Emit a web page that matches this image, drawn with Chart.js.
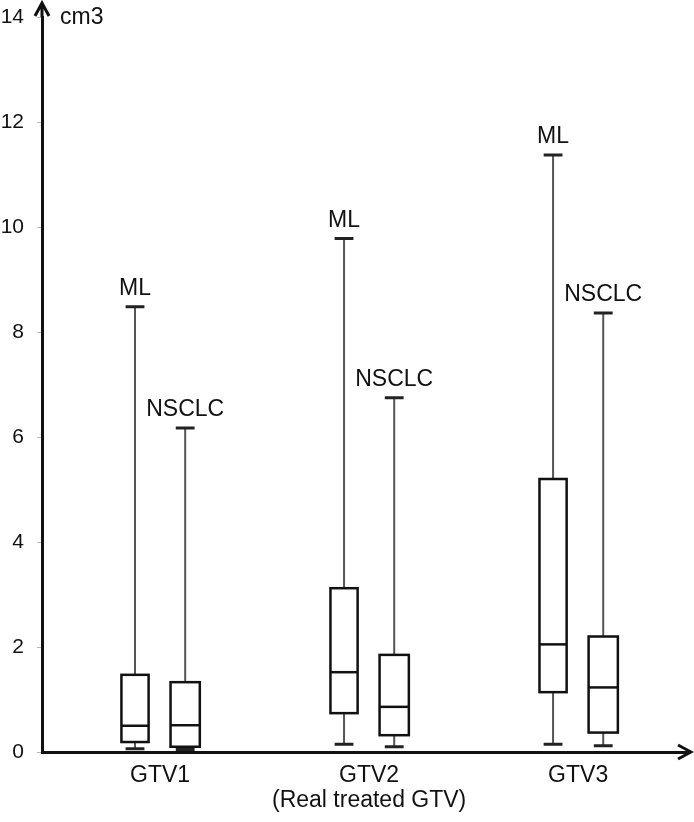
<!DOCTYPE html>
<html>
<head>
<meta charset="utf-8">
<script src="https://cdn.jsdelivr.net/npm/chart.js@4.4.1/dist/chart.umd.min.js"></script>
<style>
  html, body { margin: 0; padding: 0; background: #fff; }
  #wrap { width: 694px; height: 822px; }
</style>
</head>
<body>
<div id="wrap"><canvas id="box-chart"></canvas></div>
<script>
const groups = ['GTV1', 'GTV2', 'GTV3'];
const groupSub = ['', '(Real treated GTV)', ''];
const yTicks = [0, 2, 4, 6, 8, 10, 12, 14];
const yUnit = 'cm3';

// ML boxes (min, q1, median, q3, max) per group
const mlMin = [0.06, 0.15, 0.15];
const mlQ1 = [0.19, 0.74, 1.14];
const mlMedian = [0.50, 1.52, 2.05];
const mlQ3 = [1.47, 3.12, 5.20];
const mlMax = [8.48, 9.78, 11.37];

// NSCLC boxes
const nsMin = [0.05, 0.10, 0.12];
const nsQ1 = [0.10, 0.32, 0.37];
const nsMedian = [0.51, 0.86, 1.23];
const nsQ3 = [1.33, 1.85, 2.20];
const nsMax = [6.17, 6.75, 8.36];

const series = [
  { name: 'ML', offset: -0.12, width: 0.13, min: mlMin, q1: mlQ1, med: mlMedian, q3: mlQ3, max: mlMax },
  { name: 'NSCLC', offset: 0.12, width: 0.14, min: nsMin, q1: nsQ1, med: nsMedian, q3: nsQ3, max: nsMax }
];

const FONT = '"Liberation Sans", Arial, sans-serif';

// draws the boxes, whiskers and the ML / NSCLC labels from the scales
const boxPlot = {
  id: 'boxPlot',
  afterDatasetsDraw(chart) {
    const { ctx, scales: { x, y } } = chart;
    const capHalf = 0.045;
    ctx.save();
    ctx.lineCap = 'butt';
    series.forEach(s => {
      groups.forEach((g, i) => {
        const cx = x.getPixelForValue(i + 1 + s.offset);
        const left = x.getPixelForValue(i + 1 + s.offset - s.width / 2);
        const right = x.getPixelForValue(i + 1 + s.offset + s.width / 2);
        const capL = x.getPixelForValue(i + 1 + s.offset - capHalf);
        const capR = x.getPixelForValue(i + 1 + s.offset + capHalf);
        const yMin = y.getPixelForValue(s.min[i]);
        const yQ1 = y.getPixelForValue(s.q1[i]);
        const yMed = y.getPixelForValue(s.med[i]);
        const yQ3 = y.getPixelForValue(s.q3[i]);
        const yMax = y.getPixelForValue(s.max[i]);

        // whiskers
        ctx.strokeStyle = '#555';
        ctx.lineWidth = 2;
        ctx.beginPath();
        ctx.moveTo(cx, yQ3); ctx.lineTo(cx, yMax);
        ctx.moveTo(cx, yQ1); ctx.lineTo(cx, yMin);
        ctx.stroke();

        // caps
        ctx.strokeStyle = '#222';
        ctx.lineWidth = 3;
        ctx.beginPath();
        ctx.moveTo(capL, yMax); ctx.lineTo(capR, yMax);
        ctx.moveTo(capL, yMin); ctx.lineTo(capR, yMin);
        ctx.stroke();

        // box + median
        ctx.fillStyle = '#fff';
        ctx.fillRect(left, yQ3, right - left, yQ1 - yQ3);
        ctx.strokeStyle = '#111';
        ctx.lineWidth = 2.5;
        ctx.strokeRect(left, yQ3, right - left, yQ1 - yQ3);
        ctx.beginPath();
        ctx.moveTo(left, yMed); ctx.lineTo(right, yMed);
        ctx.stroke();

        // series label above the top whisker
        ctx.fillStyle = '#111';
        ctx.font = '23px ' + FONT;
        ctx.textAlign = 'center';
        ctx.textBaseline = 'alphabetic';
        ctx.fillText(s.name, cx, yMax - 12);
      });
    });
    ctx.restore();
  }
};

// axis arrows and unit label
const axisArrows = {
  id: 'axisArrows',
  afterDraw(chart) {
    const { ctx, chartArea: a } = chart;
    ctx.save();
    ctx.strokeStyle = '#111';
    ctx.lineWidth = 3;
    ctx.lineJoin = 'miter';
    const tipY = a.top - 14;
    const tipX = a.right + 5;
    ctx.beginPath();
    ctx.moveTo(a.left, a.top); ctx.lineTo(a.left, tipY + 1);
    ctx.moveTo(a.left - 7, tipY + 13); ctx.lineTo(a.left, tipY); ctx.lineTo(a.left + 7, tipY + 13);
    ctx.moveTo(a.right, a.bottom); ctx.lineTo(tipX - 1, a.bottom);
    ctx.moveTo(tipX - 13, a.bottom - 7); ctx.lineTo(tipX, a.bottom); ctx.lineTo(tipX - 13, a.bottom + 7);
    ctx.stroke();
    ctx.fillStyle = '#111';
    ctx.font = '23px ' + FONT;
    ctx.textAlign = 'left';
    ctx.textBaseline = 'middle';
    ctx.fillText(yUnit, a.left + 18, a.top + 1);
    ctx.restore();
  }
};

new Chart(document.getElementById('box-chart').getContext('2d'), {
  type: 'scatter',
  data: {
    datasets: series.map(s => ({
      label: s.name,
      data: s.med.map((v, i) => ({ x: i + 1 + s.offset, y: v })),
      pointRadius: 0,
      showLine: false
    }))
  },
  options: {
    responsive: true,
    maintainAspectRatio: false,
    devicePixelRatio: 1,
    animation: false,
    layout: { padding: { top: 17, right: 8, left: 0, bottom: 0 } },
    plugins: { legend: { display: false }, tooltip: { enabled: false } },
    scales: {
      x: {
        type: 'linear',
        min: 0.435,
        max: 3.516,
        afterBuildTicks: scale => { scale.ticks = groups.map((_, i) => ({ value: i + 1 })); },
        afterFit: scale => { scale.height = 70; scale.paddingLeft = 0; scale.paddingRight = 0; },
        grid: { display: false, drawTicks: false },
        border: { display: true, color: '#111', width: 3 },
        ticks: {
          padding: 11,
          color: '#111',
          font: { family: FONT, size: 23, lineHeight: 1.1 },
          maxRotation: 0,
          autoSkip: false,
          callback: v => {
            const i = Math.round(v) - 1;
            return groupSub[i] ? [groups[i], groupSub[i]] : groups[i];
          }
        }
      },
      y: {
        min: 0,
        max: 14,
        afterBuildTicks: scale => { scale.ticks = yTicks.map(v => ({ value: v })); },
        afterFit: scale => { scale.width = 42; scale.paddingTop = 0; scale.paddingBottom = 0; },
        grid: { drawOnChartArea: false, drawTicks: true, tickLength: 5, color: '#bbb', lineWidth: 1 },
        border: { display: true, color: '#111', width: 3 },
        ticks: {
          padding: 13,
          color: '#111',
          font: { family: FONT, size: 21 }
        }
      }
    }
  },
  plugins: [boxPlot, axisArrows]
});
</script>
</body>
</html>
